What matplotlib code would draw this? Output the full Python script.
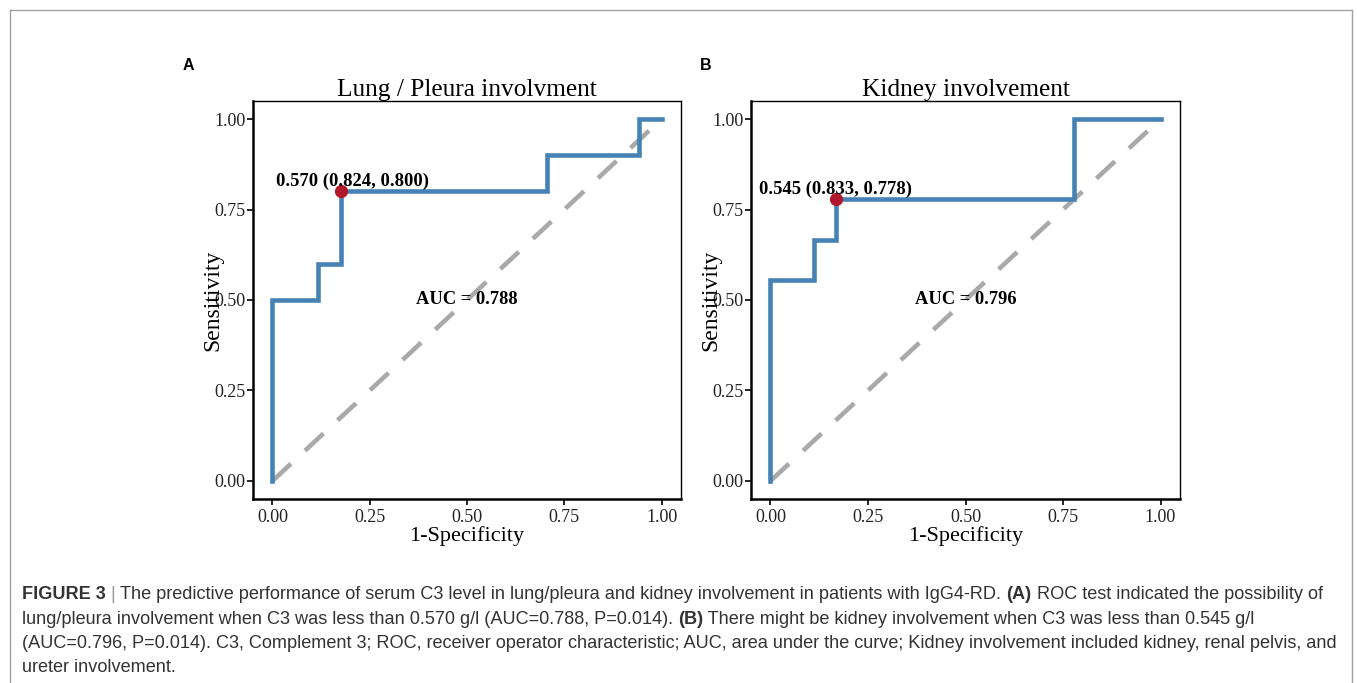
import numpy as np
import matplotlib.pyplot as plt
from matplotlib.lines import Line2D

# ROC curve A: lung / pleura
fpr_a = [0.0, 0.0, 0.118, 0.118, 0.176, 0.176, 0.706, 0.706, 0.941, 0.941, 1.0]
tpr_a = [0.0, 0.5, 0.5, 0.6, 0.6, 0.8, 0.8, 0.9, 0.9, 1.0, 1.0]
best_a = (0.176, 0.800)
label_a = "0.570 (0.824, 0.800)"
auc_a = "AUC = 0.788"
title_a = "Lung / Pleura involvment"

# ROC curve B: kidney
fpr_b = [0.0, 0.0, 0.111, 0.111, 0.167, 0.167, 0.778, 0.778, 1.0]
tpr_b = [0.0, 0.556, 0.556, 0.667, 0.667, 0.778, 0.778, 1.0, 1.0]
best_b = (0.167, 0.778)
label_b = "0.545 (0.833, 0.778)"
auc_b = "AUC = 0.796"
title_b = "Kidney involvement"

ticks = [0.0, 0.25, 0.5, 0.75, 1.0]
tick_labels = ["0.00", "0.25", "0.50", "0.75", "1.00"]

caption = [
    [("FIGURE 3", "bold"), (" | ", "sep"),
     ("The predictive performance of serum C3 level in lung/pleura and kidney involvement in patients with IgG4-RD. ", "normal"),
     ("(A)", "bold"), (" ROC test indicated the possibility of", "normal")],
    [("lung/pleura involvement when C3 was less than 0.570 g/l (AUC=0.788, P=0.014). ", "normal"),
     ("(B)", "bold"), (" There might be kidney involvement when C3 was less than 0.545 g/l", "normal")],
    [("(AUC=0.796, P=0.014). C3, Complement 3; ROC, receiver operator characteristic; AUC, area under the curve; Kidney involvement included kidney, renal pelvis, and", "normal")],
    [("ureter involvement.", "normal")],
]

W, H = 1357, 683
fig = plt.figure(figsize=(W / 100, H / 100), dpi=100)
serif = "Liberation Serif"


def roc_panel(ax, fpr, tpr, best, lab, auc, title, x_off):
    ax.plot([0, 1], [0, 1], color="#A9A9A9", lw=3.3, ls=(0, (5.5, 4.2)), dash_capstyle="butt", zorder=1)
    ax.plot(fpr, tpr, color="#4682B4", lw=3.3, solid_joinstyle="miter", zorder=2)
    ax.plot(best[0], best[1], "o", color="#B2182B", ms=8.5, zorder=3)
    ax.annotate(lab, xy=best, xytext=(x_off, 7), textcoords="offset points",
                ha="center", va="center", fontfamily=serif, fontweight="bold", fontsize=13.4, color="black")
    ax.text(0.5, 0.5, auc, ha="center", va="center", fontfamily=serif, fontweight="bold", fontsize=13.3)
    ax.set_xlim(-0.05, 1.05)
    ax.set_ylim(-0.05, 1.05)
    ax.set_xticks(ticks)
    ax.set_xticklabels(tick_labels)
    ax.set_yticks(ticks)
    ax.set_yticklabels(tick_labels)
    for lbl in ax.get_xticklabels() + ax.get_yticklabels():
        lbl.set_fontfamily(serif)
        lbl.set_fontsize(13)
        lbl.set_color("#222222")
    ax.tick_params(direction="out", length=4, width=1.2, pad=1.5)
    ax.tick_params(axis="x", pad=3)
    for s in ax.spines.values():
        s.set_linewidth(1.0)
    ax.spines["left"].set_linewidth(1.8)
    ax.spines["bottom"].set_linewidth(1.8)
    ax.set_title(title, fontfamily=serif, fontsize=18.3, pad=1)
    ax.set_xlabel("1-Specificity", fontfamily=serif, fontsize=16, labelpad=0)
    ax.set_ylabel("Sensitivity", fontfamily=serif, fontsize=17, labelpad=-7)


ax_a = fig.add_axes([253 / W, 1 - 499 / H, 428 / W, 398 / H])
roc_panel(ax_a, fpr_a, tpr_a, best_a, label_a, auc_a, title_a, 8)
ax_b = fig.add_axes([751 / W, 1 - 499 / H, 429 / W, 398 / H])
roc_panel(ax_b, fpr_b, tpr_b, best_b, label_b, auc_b, title_b, 0)

fig.text(188 / W, 1 - 66 / H, "A", fontfamily="Liberation Sans", fontweight="bold", fontsize=11.5, ha="center", va="center")
fig.text(706 / W, 1 - 66 / H, "B", fontfamily="Liberation Sans", fontweight="bold", fontsize=11.5, ha="center", va="center")

# page frame (open at bottom)
frame = "#A0A0A0"
fig.add_artist(Line2D([10 / W, 10 / W], [0, 1 - 9.5 / H], color=frame, lw=1, transform=fig.transFigure))
fig.add_artist(Line2D([10 / W, 1352 / W], [1 - 9.5 / H, 1 - 9.5 / H], color=frame, lw=1, transform=fig.transFigure))
fig.add_artist(Line2D([1352 / W, 1352 / W], [0, 1 - 9.5 / H], color=frame, lw=1, transform=fig.transFigure))

# caption, drawn run by run
renderer = fig.canvas.get_renderer()
baselines = [599, 623.5, 648, 672.5]
for runs, yb in zip(caption, baselines):
    x = 22
    for txt, kind in runs:
        t = fig.text(x / W, 1 - yb / H, txt, fontfamily="Liberation Sans", fontsize=13.05,
                     fontweight="bold" if kind == "bold" else "normal",
                     color="#999999" if kind == "sep" else "#333333",
                     ha="left", va="baseline")
        bb = t.get_window_extent(renderer=renderer)
        x += bb.width

fig.savefig("out.png", dpi=100)
